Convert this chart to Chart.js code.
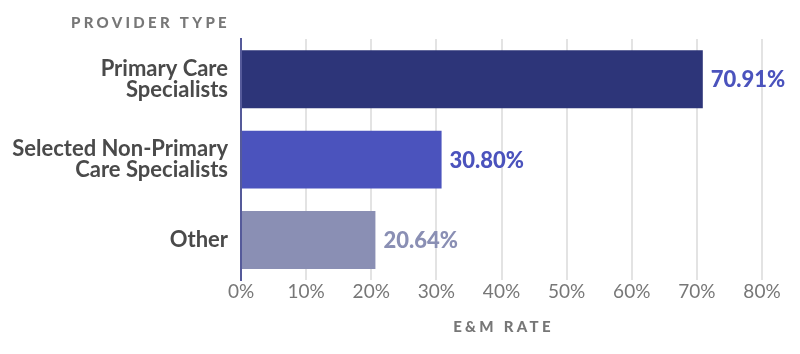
<!DOCTYPE html>
<html>
<head>
<meta charset="utf-8">
<script src="https://cdn.jsdelivr.net/npm/chart.js@4.4.0/dist/chart.umd.min.js"></script>
<style>
  html, body { margin: 0; padding: 0; background: #fff; }
  #wrap { width: 800px; height: 354px; position: relative; }
</style>
</head>
<body>
<div id="wrap"><canvas id="chart"></canvas></div>
<script>
// E&M rate by provider type
const categories = [['Primary Care', 'Specialists'], ['Selected Non-Primary', 'Care Specialists'], 'Other'];
const rates = [70.91, 30.80, 20.64];
const barColors = ['#2d3579', '#4b53bd', '#8a8fb4'];
const labelColors = ['#4b53bd', '#4b53bd', '#8a8fb4'];
const xTicks = [0, 10, 20, 30, 40, 50, 60, 70, 80];

const FONT = 'Lato, "Noto Sans", sans-serif';

// axis titles + value labels on bars
const extras = {
  id: 'extras',
  afterDatasetsDraw(chart) {
    const ctx = chart.ctx;
    const area = chart.chartArea;
    ctx.save();
    ctx.font = `900 15px ${FONT}`;
    ctx.fillStyle = '#777777';
    ctx.letterSpacing = '3.3px';
    ctx.textAlign = 'right';
    ctx.textBaseline = 'middle';
    ctx.fillText('PROVIDER TYPE', 230, 23);
    ctx.textAlign = 'center';
    ctx.fillText('E&M RATE', (area.left + area.right) / 2 + 2, 327);
    ctx.letterSpacing = '0px';

    const meta = chart.getDatasetMeta(0);
    ctx.font = `900 22px ${FONT}`;
    ctx.textAlign = 'left';
    meta.data.forEach((bar, i) => {
      ctx.fillStyle = labelColors[i];
      ctx.fillText(rates[i].toFixed(2) + '%', bar.x + 8, bar.y + 1);
    });
    ctx.restore();
  }
};

new Chart(document.getElementById('chart'), {
  type: 'bar',
  data: {
    labels: categories,
    datasets: [{
      data: rates,
      backgroundColor: barColors,
      borderWidth: 0,
      categoryPercentage: 1,
      barPercentage: 0.72
    }]
  },
  options: {
    indexAxis: 'y',
    responsive: true,
    maintainAspectRatio: false,
    animation: false,
    layout: { padding: { top: 39, right: 38, bottom: 51, left: 0 } },
    plugins: {
      legend: { display: false },
      tooltip: { enabled: false }
    },
    scales: {
      x: {
        min: 0,
        max: 80,
        afterBuildTicks: axis => { axis.ticks = xTicks.map(v => ({ value: v })); },
        grid: { color: '#e3e3e3', lineWidth: 2, drawTicks: false },
        border: { display: false },
        ticks: {
          color: '#777777',
          font: { family: FONT, size: 19 },
          padding: 0,
          callback: v => v + '%'
        }
      },
      y: {
        grid: { display: false },
        border: { color: '#555a9a', width: 2 },
        afterFit: axis => { axis.width = 241; },
        ticks: {
          color: '#4a4a4a',
          font: { family: FONT, size: 22, weight: 'bold', lineHeight: 0.95 },
          padding: 5
        }
      }
    }
  },
  plugins: [extras]
});
</script>
</body>
</html>
